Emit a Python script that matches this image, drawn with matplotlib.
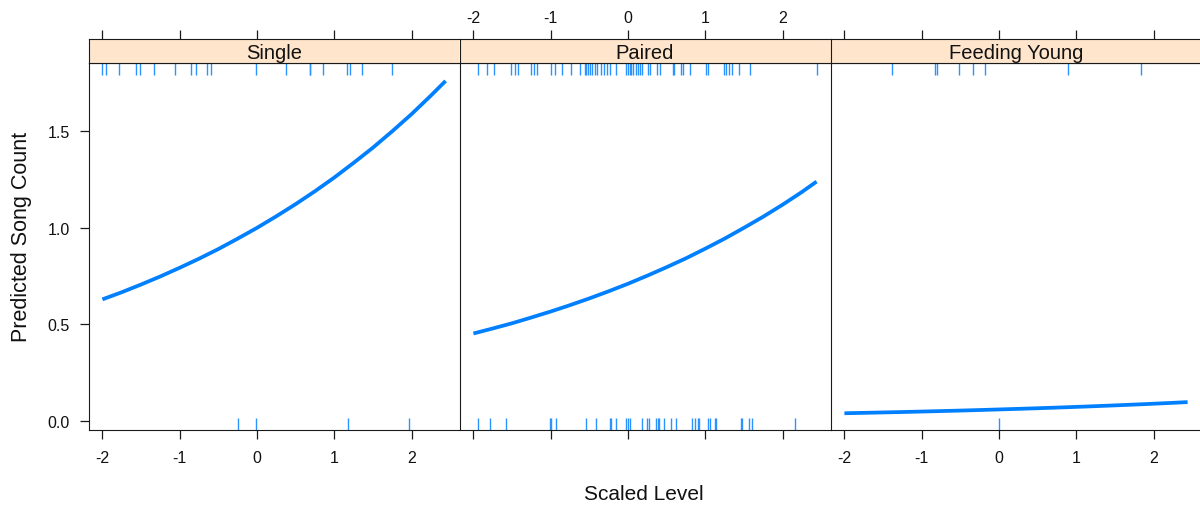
import matplotlib
matplotlib.use("Agg")
import matplotlib.pyplot as plt
import matplotlib.transforms as mtrans

plt.rcParams['font.family'] = ['Liberation Sans', 'DejaVu Sans']
plt.rcParams['axes.unicode_minus'] = False

panels = ["Single", "Paired", "Feeding Young"]

curve_x = [-2.0, -1.75, -1.5, -1.25, -1.0, -0.75, -0.5, -0.25, 0.0, 0.25, 0.5,
           0.75, 1.0, 1.25, 1.5, 1.75, 2.0, 2.25, 2.44]
curve_single = [0.629, 0.666, 0.706, 0.748, 0.793, 0.840, 0.890, 0.944, 1.000, 1.060,
                1.123, 1.190, 1.261, 1.337, 1.416, 1.501, 1.590, 1.686, 1.762]
curve_paired = [0.452, 0.478, 0.505, 0.535, 0.566, 0.599, 0.634, 0.671, 0.710, 0.752,
                0.796, 0.842, 0.892, 0.944, 1.000, 1.058, 1.120, 1.186, 1.240]
curve_feeding = [0.0383, 0.0404, 0.0425, 0.0447, 0.0471, 0.0496, 0.0522, 0.0550, 0.0580,
                 0.0611, 0.0643, 0.0677, 0.0713, 0.0751, 0.0791, 0.0833, 0.0877, 0.0924,
                 0.0961]

rug_top_single = [-2.0, -1.95, -1.79, -1.57, -1.52, -1.33, -1.06, -0.85, -0.79,
                  -0.65, -0.60, -0.01, 0.38, 0.68, 0.69, 0.85, 1.16, 1.20, 1.36, 1.75]
rug_bot_single = [-0.24, -0.01, 1.18, 1.97]

rug_top_paired = [-1.94, -1.82, -1.74, -1.51, -1.46, -1.42, -1.26, -1.21, -1.18,
                  -1.00, -0.95, -0.85, -0.74, -0.62, -0.56, -0.54, -0.52, -0.49,
                  -0.46, -0.43, -0.40, -0.35, -0.31, -0.27, -0.23, -0.15, -0.02,
                  0.0, 0.02, 0.04, 0.07, 0.10, 0.13, 0.15, 0.18, 0.26, 0.29, 0.38,
                  0.41, 0.58, 0.60, 0.68, 0.71, 0.80, 1.01, 1.04, 1.24, 1.27, 1.31,
                  1.35, 1.43, 1.58, 2.44]
rug_bot_paired = [-1.94, -1.78, -1.58, -1.01, -1.00, -0.93, -0.54, -0.41, -0.23,
                  -0.22, -0.15, -0.03, 0.0, 0.03, 0.18, 0.25, 0.27, 0.36, 0.39,
                  0.40, 0.47, 0.55, 0.62, 0.83, 0.87, 0.90, 0.92, 1.04, 1.06, 1.12,
                  1.14, 1.46, 1.47, 1.56, 1.61, 2.16]

rug_top_feeding = [-1.38, -0.83, -0.80, -0.52, -0.33, -0.18, 0.89, 1.84]
rug_bot_feeding = [0.0]

x_ticks = [-2, -1, 0, 1, 2]
y_ticks = [0.0, 0.5, 1.0, 1.5]
y_tick_labels = ["0.0", "0.5", "1.0", "1.5"]

curves = [curve_single, curve_paired, curve_feeding]
rugs_top = [rug_top_single, rug_top_paired, rug_top_feeding]
rugs_bot = [rug_bot_single, rug_bot_paired, rug_bot_feeding]

W, H = 1200, 506
fig = plt.figure(figsize=(W / 100, H / 100), dpi=100)

line_col = '#0080ff'
rug_col = '#2a93ff'
strip_col = '#FFE5CC'
edge = '#1a1a1a'

panel_left = 88.5
panel_w = 371.0
panel_top = 64.0
panel_bot = 430.5
strip_top = 40.0

xlim = (-2.18, 2.62)
ylim = (-0.046, 1.855)

for i, name in enumerate(panels):
    l = panel_left + i * panel_w
    ax = fig.add_axes([l / W, (H - panel_bot) / H, panel_w / W, (panel_bot - panel_top) / H])
    sax = fig.add_axes([l / W, (H - panel_top) / H, panel_w / W, (panel_top - strip_top) / H])

    ax.plot(curve_x, curves[i], color=line_col, lw=2.7, solid_capstyle='butt',
            solid_joinstyle='round')
    trans = mtrans.blended_transform_factory(ax.transData, ax.transAxes)
    ax.vlines(rugs_top[i], 1 - 12 / 366.5, 1.0, transform=trans, color=rug_col, lw=1.0)
    ax.vlines(rugs_bot[i], 0.0, 12 / 366.5, transform=trans, color=rug_col, lw=1.0)

    ax.set_xlim(*xlim)
    ax.set_ylim(*ylim)
    sax.set_xlim(*xlim)
    sax.set_ylim(0, 1)
    sax.set_facecolor(strip_col)
    sax.text(0.5, 0.42, name, transform=sax.transAxes, ha='center', va='center',
             fontsize=14.5, color='#111111')

    for a in (ax, sax):
        for sp in a.spines.values():
            sp.set_color(edge)
            sp.set_linewidth(0.8)
        if i < len(panels) - 1:
            a.spines['right'].set_visible(False)

    ax.set_xticks(x_ticks)
    ax.tick_params(axis='x', which='both', direction='out', length=6.5, width=0.9,
                   color=edge, labelsize=11.5, pad=8, top=False, bottom=True,
                   labelbottom=(i != 1), labelcolor='#111111')
    ax.set_yticks(y_ticks)
    if i == 0:
        ax.set_yticklabels(y_tick_labels)
        ax.tick_params(axis='y', direction='out', length=6.5, width=0.9, color=edge,
                       labelsize=11.5, pad=7, left=True, right=False, labelcolor='#111111')
    else:
        ax.tick_params(axis='y', left=False, right=False, labelleft=False)

    sax.set_xticks(x_ticks)
    sax.set_yticks([])
    sax.tick_params(axis='x', direction='out', length=6.5, width=0.9, color=edge,
                    labelsize=11.5, pad=3.5, top=True, bottom=False,
                    labeltop=(i == 1), labelbottom=False, labelcolor='#111111')

fig.text((panel_left + 1200) / 2 / W, 1 - 495 / H, "Scaled Level", ha='center', va='center',
         fontsize=15, color='#111111')
fig.text(22 / W, 1 - 237 / H, "Predicted Song Count", ha='center',
         va='center', rotation=90, fontsize=15.5, color='#111111')

fig.savefig("out.png", dpi=100)
